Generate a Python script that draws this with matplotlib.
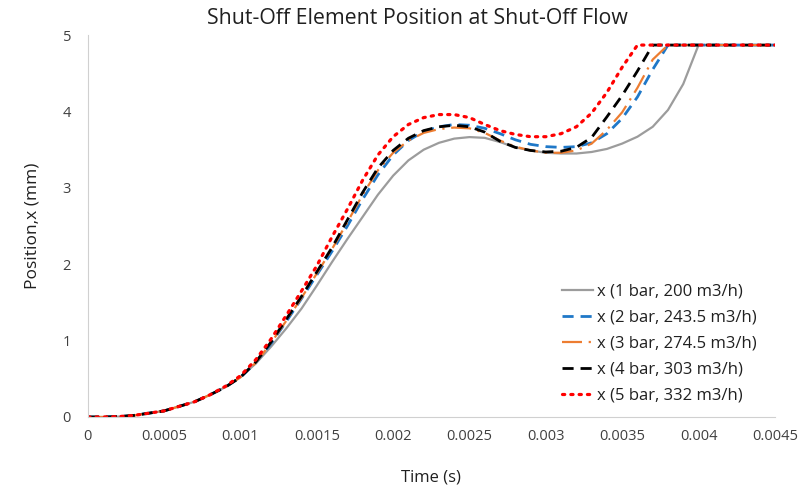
import numpy as np
import matplotlib
matplotlib.use("Agg")
import matplotlib.pyplot as plt

plt.rcParams['font.family'] = ['Open Sans', 'DejaVu Sans']

t = np.round(np.arange(0, 46) * 0.0001, 5)

early = [0, 0, 0.005, 0.02, 0.05, 0.08, 0.14, 0.20, 0.29, 0.39, 0.52]

x1bar = early + [0.70, 0.92, 1.16, 1.42, 1.72, 2.03, 2.33, 2.62, 2.91, 3.16,
                 3.36, 3.50, 3.59, 3.645, 3.665, 3.655, 3.60, 3.53, 3.49, 3.46,
                 3.45, 3.45, 3.47, 3.51, 3.58, 3.67, 3.80, 4.02, 4.36, 4.87] + [4.87] * 5
x2bar = early + [0.71, 0.96, 1.25, 1.55, 1.86, 2.17, 2.50, 2.85, 3.17, 3.43,
                 3.62, 3.74, 3.80, 3.83, 3.82, 3.78, 3.71, 3.63, 3.57, 3.54,
                 3.53, 3.54, 3.59, 3.71, 3.91, 4.19, 4.55, 4.87] + [4.87] * 7
x3bar = early + [0.71, 0.97, 1.26, 1.56, 1.88, 2.20, 2.55, 2.91, 3.23, 3.46,
                 3.62, 3.72, 3.77, 3.79, 3.78, 3.72, 3.62, 3.54, 3.49, 3.46,
                 3.46, 3.49, 3.58, 3.76, 3.99, 4.31, 4.68, 4.87] + [4.87] * 7
x4bar = early + [0.72, 0.98, 1.28, 1.58, 1.90, 2.22, 2.58, 2.94, 3.26, 3.49,
                 3.65, 3.75, 3.80, 3.82, 3.80, 3.73, 3.61, 3.53, 3.49, 3.47,
                 3.48, 3.53, 3.66, 3.93, 4.21, 4.53, 4.87] + [4.87] * 8
x5bar = early[:9] + [0.40, 0.54] + [0.75, 1.02, 1.33, 1.65, 1.98, 2.36, 2.72, 3.10, 3.43, 3.67,
                                    3.83, 3.92, 3.96, 3.96, 3.92, 3.83, 3.75, 3.70, 3.67, 3.67,
                                    3.71, 3.80, 3.98, 4.25, 4.58, 4.87] + [4.87] * 9

labels = ['x (1 bar, 200 m3/h)', 'x (2 bar, 243.5 m3/h)', 'x (3 bar, 274.5 m3/h)',
          'x (4 bar, 303 m3/h)', 'x (5 bar, 332 m3/h)']
xticks = [0, 0.0005, 0.001, 0.0015, 0.002, 0.0025, 0.003, 0.0035, 0.004, 0.0045]
xticklabels = ['0', '0.0005', '0.001', '0.0015', '0.002', '0.0025', '0.003', '0.0035', '0.004', '0.0045']

fig = plt.figure(figsize=(7.98, 4.88), dpi=100)
ax = fig.add_axes([0.110, 0.1455, 0.861, 0.7825])

ax.plot(t, x1bar, color='#9c9c9c', lw=1.6, label=labels[0])
ax.plot(t, x2bar, color='#1f78c8', lw=2, dashes=(4, 2.5), label=labels[1])
ax.plot(t, x3bar, color='#ed7d31', lw=1.6, dashes=(9, 3, 1, 3), label=labels[2])
ax.plot(t, x4bar, color='black', lw=2, dashes=(4, 2.5), label=labels[3])
ax.plot(t, x5bar, color='#ff0000', lw=2.3, dashes=(0.7, 1.9), dash_capstyle='round', label=labels[4])

ax.set_xlim(0, 0.0045)
ax.set_ylim(0, 5)
ax.set_xticks(xticks)
ax.set_xticklabels(xticklabels)
ax.set_yticks([0, 1, 2, 3, 4, 5])
ax.tick_params(length=0, labelsize=10.5, colors='#404040', pad=9)
ax.tick_params(axis='y', pad=12)
for s in ['top', 'right']:
    ax.spines[s].set_visible(False)
for s in ['left', 'bottom']:
    ax.spines[s].set_color('#d0d0d0')

fig.text(0.523, 0.963, 'Shut-Off Element Position at Shut-Off Flow', fontsize=15.3,
         color='#202020', ha='center', va='center')
ax.set_xlabel('Time (s)', fontsize=12, color='#202020', labelpad=18)
ax.set_ylabel('Position,x (mm)', fontsize=12.5, color='#202020', labelpad=16)

ax.legend(loc='lower right', bbox_to_anchor=(0.995, -0.005), frameon=False, fontsize=12,
          handlelength=1.9, handletextpad=0.2, labelspacing=0.6, labelcolor='#202020')

fig.savefig('out.png', dpi=100)
